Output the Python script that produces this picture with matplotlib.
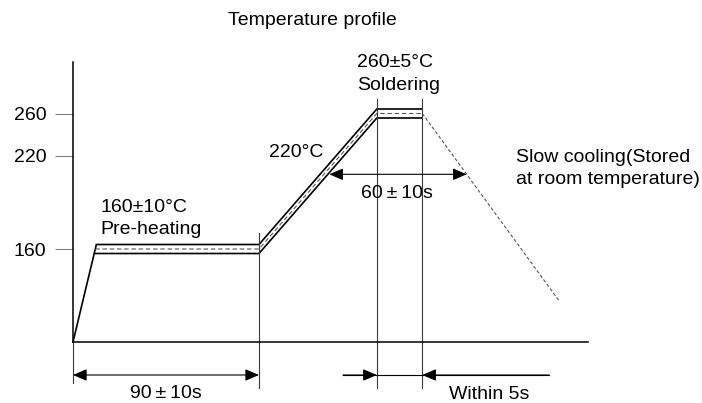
import numpy as np
import matplotlib
matplotlib.use("Agg")
import matplotlib.pyplot as plt
from matplotlib.transforms import Affine2D, blended_transform_factory

plt.rcParams['font.family'] = ['Liberation Sans', 'DejaVu Sans']

# ---------------- data (time in s, temperature in °C) ----------------
temp_ticks = [160, 220, 260]
tick_labels = ['160', '220', '260']
room_temp = 25
axis_end_time = 249
axis_top_temp = 317

# outer (upper) edge of the tolerance band, including the initial ramp
upper_time = [0, 11.3, 90, 147, 169]
upper_temp = [25, 170, 170, 265, 265]
# lower edge of the tolerance band
lower_time = [10.3, 90, 147, 169]
lower_temp = [150, 150, 255, 255]
# nominal profile (dashed)
center_time = [10.8, 90, 147, 169]
center_temp = [160, 160, 260, 260]
# slow cooling
cool_time = [169, 235]
cool_temp = [260, 84]

preheat_end = 90
peak_start = 147
peak_end = 169

# ---------------- layout ----------------
W, H = 702, 403
fig = plt.figure(figsize=(W / 100, H / 100), dpi=100)
ax = fig.add_axes([0, 0, 1, 1])
ax.patch.set_visible(False)

# pixel transform (x from left, y from top)
pxT = Affine2D().scale(1 / W, -1 / H).translate(0, 1) + fig.transFigure

# schematic (piecewise-linear) temperature scale
T_anc = np.array([25, 150, 170, 220, 255, 265], float)
px_anc = np.array([342, 253.5, 244.5, 156, 118, 109], float)
v_anc = H - px_anc
s_lo = (v_anc[1] - v_anc[0]) / (T_anc[1] - T_anc[0])
s_hi = (v_anc[-1] - v_anc[-2]) / (T_anc[-1] - T_anc[-2])


def fwd(T):
    T = np.asarray(T, float)
    v = np.interp(T, T_anc, v_anc)
    v = np.where(T < T_anc[0], v_anc[0] + (T - T_anc[0]) * s_lo, v)
    v = np.where(T > T_anc[-1], v_anc[-1] + (T - T_anc[-1]) * s_hi, v)
    return v


def inv(v):
    v = np.asarray(v, float)
    T = np.interp(v, v_anc, T_anc)
    T = np.where(v < v_anc[0], T_anc[0] + (v - v_anc[0]) / s_lo, T)
    T = np.where(v > v_anc[-1], T_anc[-1] + (v - v_anc[-1]) / s_hi, T)
    return T


ax.set_yscale('function', functions=(fwd, inv))

px_per_s = 186 / 90
x0 = 73

blend = blended_transform_factory(ax.transData, pxT)

band_kw = dict(color='black', lw=1.2, solid_joinstyle='miter', solid_capstyle='butt')
ax.plot(upper_time, upper_temp, **band_kw)
ax.plot(lower_time, lower_temp, **band_kw)
ax.plot(center_time, center_temp, color='#555555', lw=0.8, ls=(0, (4, 2.5)))
ax.plot(cool_time, cool_temp, color='#555555', lw=0.8, ls=(0, (3, 2)))

# vertical reference lines
vkw = dict(color='#3a3a3a', lw=0.8, transform=blend)
ax.plot([0, 0], [342, 383], **vkw)
ax.plot([preheat_end, preheat_end], [233, 388], **vkw)
ax.plot([peak_start, peak_start], [99, 388], **vkw)
ax.plot([peak_end, peak_end], [99, 388], **vkw)


def arrow(t_from, t_to, y, style):
    ax.annotate('', xy=(t_to, y), xytext=(t_from, y), xycoords=blend, textcoords=blend,
                arrowprops=dict(arrowstyle=f'{style},head_length=0.84,head_width=0.36',
                                color='black', lw=0.8, shrinkA=0, shrinkB=0,
                                mutation_scale=10))


arrow(0, preheat_end, 375, '<|-|>')
arrow(124.0, 190.5, 174.3, '<|-|>')
ax.plot([130.6, 230.3], [375, 375], color='black', lw=0.8, transform=blend)
arrow(130.6, peak_start, 375, '-|>')
arrow(230.3, peak_end, 375, '-|>')

# axes
for s in ['top', 'right']:
    ax.spines[s].set_visible(False)
ax.spines['left'].set_position(('data', 0))
ax.spines['left'].set_bounds(room_temp, axis_top_temp)
ax.spines['bottom'].set_position(('data', room_temp))
ax.spines['bottom'].set_bounds(0, axis_end_time)
for s in ['left', 'bottom']:
    ax.spines[s].set_linewidth(1.1)
    ax.spines[s].set_color('black')
ax.set_xticks([])
ax.set_yticks(temp_ticks)
ax.set_yticklabels(tick_labels)
ax.tick_params(axis='y', length=13, width=0.8, color='#808080', pad=6,
               labelsize=14, direction='out')

# texts
tkw = dict(transform=pxT, fontsize=14, va='baseline')
ax.text(312.5, 25, 'Temperature profile', ha='center', **tkw)
ax.text(100.7, 212.3, '160±10°C', ha='left', **tkw)
ax.text(100.7, 234.3, 'Pre-heating', ha='left', **tkw)
ax.text(269, 156.7, '220°C', ha='left', **tkw)
ax.text(357.3, 66.7, '260±5°C', ha='left', **tkw)
ax.text(357.3, 90, 'Soldering', ha='left', **tkw)
ax.text(397, 198.5, '60\u2009±\u200910s', ha='center', **tkw)
ax.text(515.7, 162.3, 'Slow cooling(Stored', ha='left', **tkw)
ax.text(515.7, 184.3, 'at room temperature)', ha='left', **tkw)
ax.text(166.3, 398.5, '90\u2009±\u200910s', ha='center', **tkw)
ax.text(449, 399, 'Within 5s', ha='left', **tkw)

ax.set_xlim(-x0 / px_per_s, (W - x0) / px_per_s)
ax.set_ylim(float(inv(0)), float(inv(H)))

fig.savefig('out.png', dpi=100)
